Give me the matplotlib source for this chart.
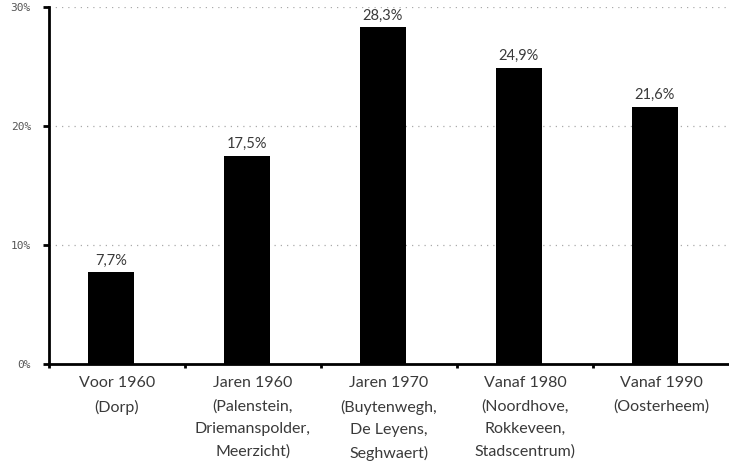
import numpy as np
import matplotlib.pyplot as plt

categories = ["Voor 1960\n(Dorp)",
              "Jaren 1960\n(Palenstein,\nDriemanspolder,\nMeerzicht)",
              "Jaren 1970\n(Buytenwegh,\nDe Leyens,\nSeghwaert)",
              "Vanaf 1980\n(Noordhove,\nRokkeveen,\nStadscentrum)",
              "Vanaf 1990\n(Oosterheem)"]
values = [7.7, 17.5, 28.3, 24.9, 21.6]
yticks = [0, 10, 20, 30]

fig = plt.figure(figsize=(7.29, 4.72), dpi=100)
ax = fig.add_axes([0.0672, 0.2288, 0.9328, 0.7562])

x = np.arange(len(values))
ax.bar(x - 0.045, values, width=0.34, color='black', zorder=3)

for i, v in enumerate(values):
    ax.text(x[i] - 0.045, v + 0.4, ("%.1f%%" % v).replace('.', ','),
            ha='center', va='bottom', fontsize=10.5, color='#3a3a3a',
            family='Lato')

ax.set_xlim(-0.5, 4.5)
ax.set_ylim(0, 30)

# dotted grid lines
for t in yticks[1:]:
    ax.axhline(t, color='#aaaaaa', linestyle=(0, (1, 4)), linewidth=0.9, zorder=1)

ax.set_yticks(yticks)
ax.set_yticklabels(["%d%%" % t for t in yticks], family='DejaVu Sans Mono',
                   fontsize=8, color='#555555')
ax.tick_params(axis='y', length=4, width=2, pad=9)

ax.set_xticks(np.arange(-0.5, 4.0, 1.0))
ax.set_xticklabels([])
ax.tick_params(axis='x', length=3, width=2)
for i, c in enumerate(categories):
    ax.text(x[i], -1.05, c, ha='center', va='top', fontsize=11.5,
            color='#3a3a3a', family='Lato', linespacing=1.75)

for s in ['top', 'right']:
    ax.spines[s].set_visible(False)
ax.spines['left'].set_linewidth(2)
ax.spines['bottom'].set_linewidth(2)

fig.savefig('out.png', dpi=100)
